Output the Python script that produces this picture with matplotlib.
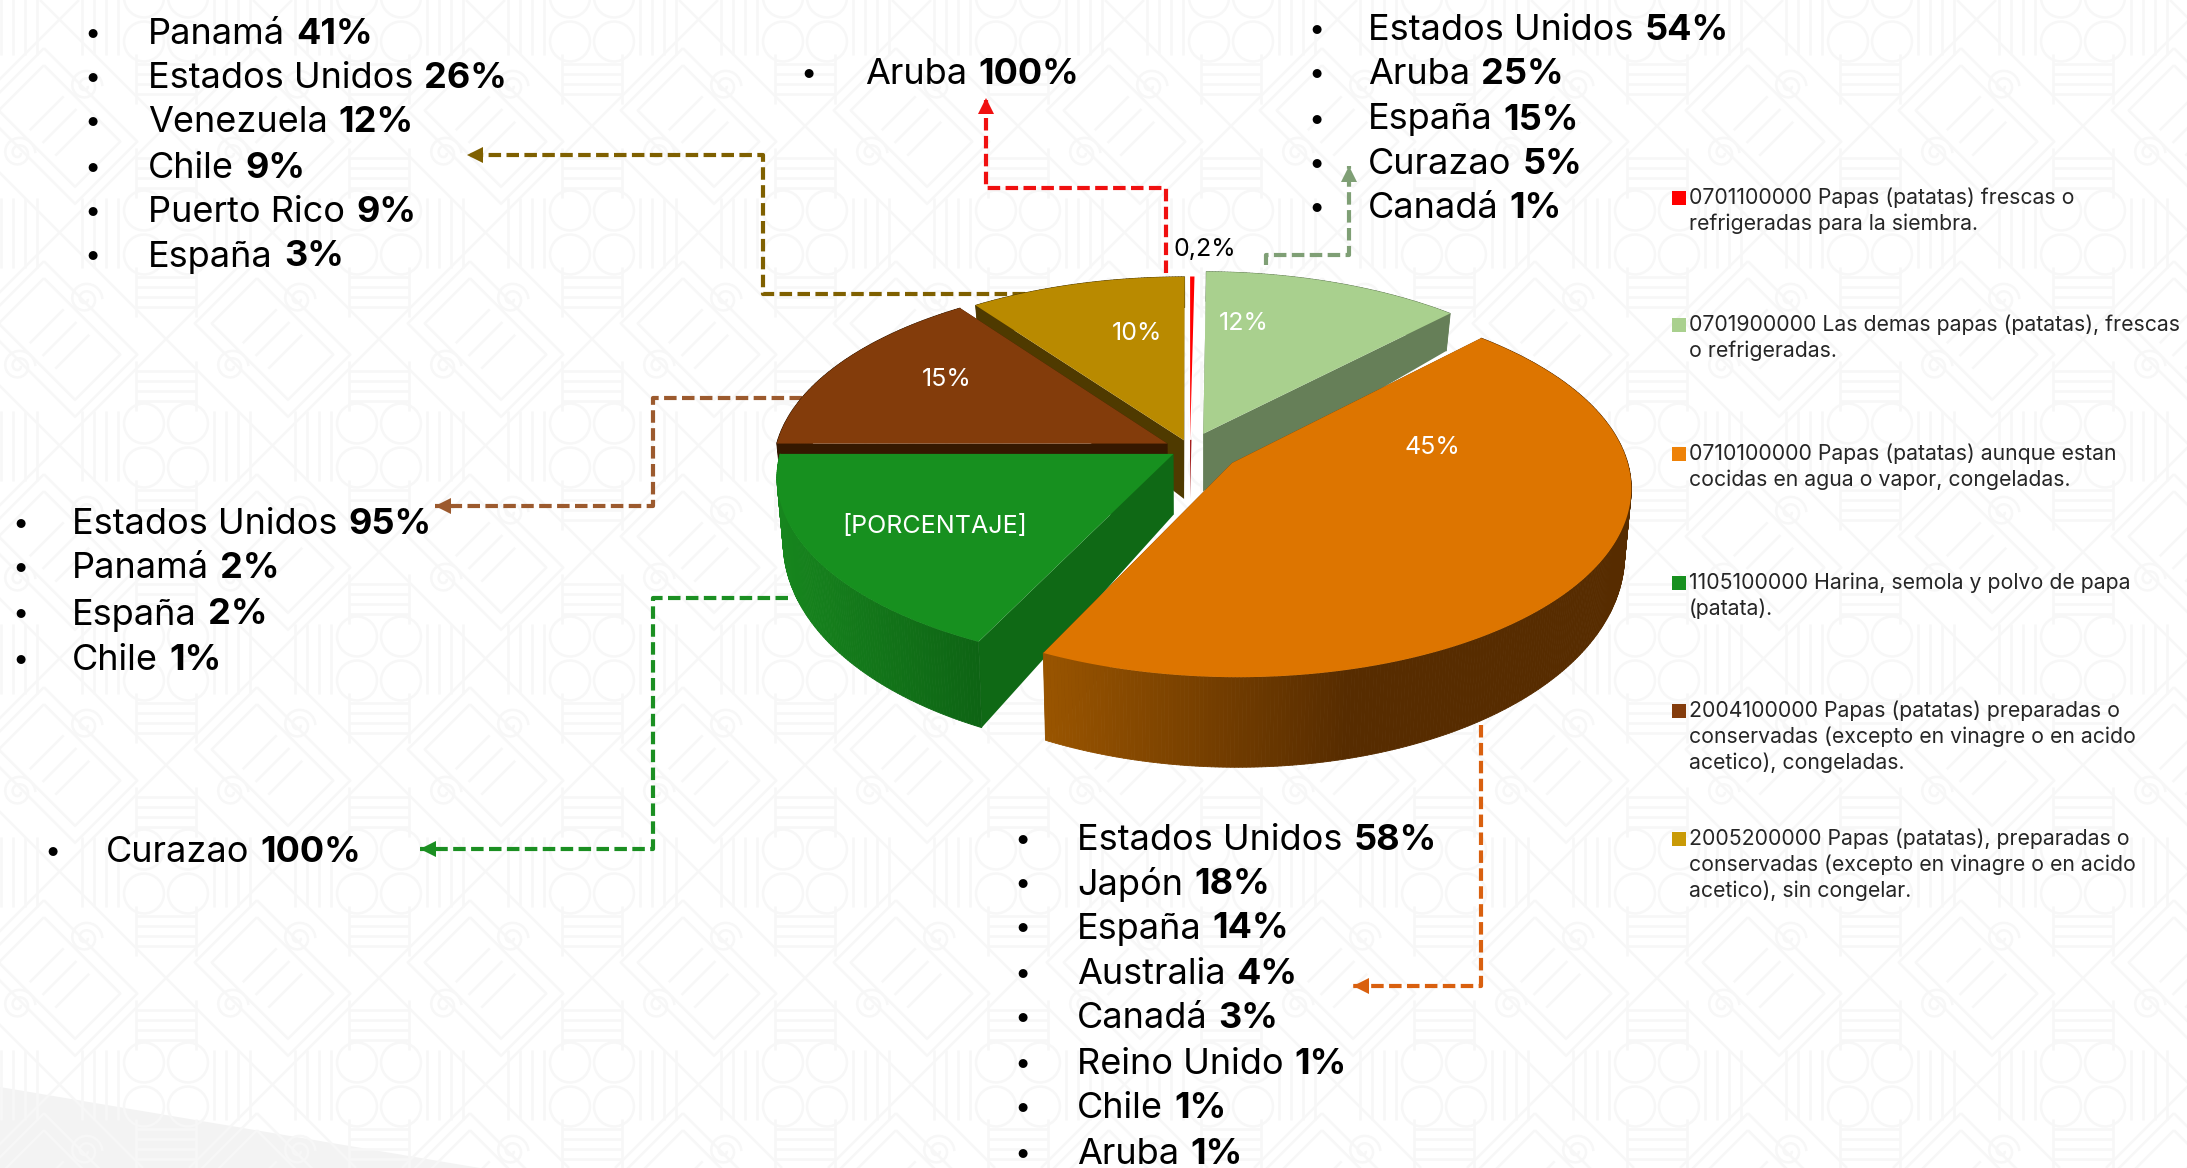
import numpy as np
import matplotlib
matplotlib.use('Agg')
from matplotlib import pyplot as plt
from matplotlib.collections import PolyCollection, LineCollection
from matplotlib.colors import to_rgb

plt.rcParams['font.family'] = ['Inter', 'Lato', 'DejaVu Sans']

# slices, clockwise from 12 o'clock
shares = [0.2, 12, 45, 17.8, 15, 10]
slice_labels = ['0,2%', '12%', '45%', '[PORCENTAJE]', '15%', '10%']

legend_items = [
    ['0701100000 Papas (patatas) frescas o', 'refrigeradas para la siembra.'],
    ['0701900000 Las demas papas (patatas), frescas', 'o refrigeradas.'],
    ['0710100000 Papas (patatas) aunque estan', 'cocidas en agua o vapor, congeladas.'],
    ['1105100000 Harina, semola y polvo de papa', '(patata).'],
    ['2004100000 Papas (patatas) preparadas o', 'conservadas (excepto en vinagre o en acido', 'acetico), congeladas.'],
    ['2005200000 Papas (patatas), preparadas o', 'conservadas (excepto en vinagre o en acido', 'acetico), sin congelar.'],
]

# destination lists
gold_names = ['Panamá', 'Estados Unidos', 'Venezuela', 'Chile', 'Puerto Rico', 'España']
gold_pct = [41, 26, 12, 9, 9, 3]
red_names = ['Aruba']
red_pct = [100]
light_names = ['Estados Unidos', 'Aruba', 'España', 'Curazao', 'Canadá']
light_pct = [54, 25, 15, 5, 1]
brown_names = ['Estados Unidos', 'Panamá', 'España', 'Chile']
brown_pct = [95, 2, 2, 1]
green_names = ['Curazao']
green_pct = [100]
orange_names = ['Estados Unidos', 'Japón', 'España', 'Australia', 'Canadá', 'Reino Unido', 'Chile', 'Aruba']
orange_pct = [58, 18, 14, 4, 3, 1, 1, 1]

# styling per slice
top_cols = ['#ff0000', '#a9d08e', '#dd7500', '#17901f', '#833c0b', '#b98a00']
cut_cols = ['#990000', '#667f58', '#5a2e00', '#0f6915', '#351800', '#4f3a00']
wall_left = ['#990000', '#667f58', '#9a5500', '#17861e', '#351800', '#4f3a00']
wall_right = ['#990000', '#667f58', '#572c00', '#0e6414', '#351800', '#4f3a00']
legend_cols = ['#ff0000', '#a9d08e', '#ee8208', '#17901f', '#843c0c', '#c99a06']
explode = [0.05, 0.09, 0.13, 0.05, 0.065, 0.05]

W, H = 2187, 1168
CX, CY = 1190, 449
A, B, K = 392, 185, 0.12

fig = plt.figure(figsize=(W / 100, H / 100), dpi=100)
ax = fig.add_axes([0, 0, 1, 1])
ax.set_xlim(0, W)
ax.set_ylim(H, 0)
ax.axis('off')


def top_xy(X, Y):
    w = 1 - K * Y
    return CX + A * X / w, CY + B * Y / w


def bottom_xy(X, Y):
    x, y = top_xy(X, Y)
    return CX + (x - CX) * 0.985, y + 60 + 28 * Y


def rotated(cx, cy, u, v):
    # u, v along the two diagonals
    s = np.sqrt(0.5)
    return cx + (u - v) * s, cy + (u + v) * s


def draw_background():
    P = 213
    x0, y0 = 166, 126  # one crossing of the lattice
    segs = []
    for n in range(-12, 24):
        c = x0 - y0 + n * P
        segs.append([(c, 0), (c + H, H)])
        c = x0 + y0 + n * P
        segs.append([(c, 0), (c - H, H)])
    for i in range(-1, 12):
        for j in range(-1, 7):
            cx, cy = x0 + i * P, y0 + j * P
            # stripes above and below the crossing
            for sgn in (-1, 1):
                for d in (32, 42, 52, 62):
                    segs.append([(cx - 30, cy + sgn * d), (cx + 30, cy + sgn * d)])
            for sgn in (-1, 1):
                segs.append([(cx + sgn * 30, cy - 72), (cx + sgn * 30, cy - 22)])
                segs.append([(cx + sgn * 30, cy + 22), (cx + sgn * 30, cy + 72)])
            # ornament diamond
            ox, oy = cx - P / 2, cy
            for r, q in ((66, 44), (54, 32)):
                us = np.array([-r, r, r, -r, -r])
                vs = np.array([-q, -q, q, q, -q])
                xs, ys = rotated(ox, oy, us, vs)
                segs.append(list(zip(xs, ys)))
            for du in (-18, 0, 18):
                xs, ys = rotated(ox, oy, np.array([du, du]), np.array([-24, 24]))
                segs.append(list(zip(xs, ys)))
            for sx, sy in ((26, -40), (-41, 27)):
                ang = np.linspace(0, 4 * np.pi, 50)
                rad = 15 * ang / ang[-1] + 2
                segs.append(list(zip(ox + sx + rad * np.cos(ang), oy + sy + rad * np.sin(ang))))
            # petal diamond with vertical stripes
            px, py = cx, cy + P / 2
            ang = np.linspace(0, 2 * np.pi, 30)
            for sa in (-1, 1):
                for sb in (-1, 1):
                    segs.append(list(zip(px + sa * 22 + 20 * np.cos(ang), py + sb * 22 + 20 * np.sin(ang))))
            for sgn in (-1, 1):
                for d in (48, 60, 72, 84):
                    segs.append([(px + sgn * d, py - 35), (px + sgn * d, py + 35)])
    ax.fill([0, 480, 0], [1087, H, H], color='#f3f3f3', lw=0, zorder=0.5)
    ax.add_collection(LineCollection(segs, colors='#f7f7f7', linewidths=1.8, zorder=1))


def connector(xs, ys, color):
    ax.plot(xs, ys, color=color, lw=3, dashes=(3, 1.3), zorder=2)
    dx, dy = np.sign(xs[-1] - xs[-2]), np.sign(ys[-1] - ys[-2])
    tip = (xs[-1], ys[-1])
    ax.fill([tip[0], tip[0] - dx * 16 + dy * 8, tip[0] - dx * 16 - dy * 8],
            [tip[1], tip[1] - dy * 16 + dx * 8, tip[1] - dy * 16 - dx * 8],
            color=color, lw=0, zorder=2.1)


def draw_slice(i, start, end):
    mid = np.radians((start + end) / 2)
    X0, Y0 = explode[i] * np.sin(mid), -explode[i] * np.cos(mid)
    t = np.radians(np.linspace(start, end, max(3, int(end - start) * 2)))
    Xr, Yr = X0 + np.sin(t), Y0 - np.cos(t)
    xt, yt = top_xy(Xr, Yr)
    xb, yb = bottom_xy(Xr, Yr)
    ax_, ay_ = top_xy(X0, Y0)
    bx_, by_ = bottom_xy(X0, Y0)
    z = 5 + order.index(i)
    # cut faces
    for k in (0, -1):
        ax.fill([ax_, xt[k], xb[k], bx_], [ay_, yt[k], yb[k], by_],
                color=cut_cols[i], lw=0, zorder=z)
    # outer wall as small quads, shaded from left to right
    quads, cols = [], []
    c0, c1 = np.array(to_rgb(wall_left[i])), np.array(to_rgb(wall_right[i]))
    lo, hi = xt.min(), min(xt.max(), lo_hi[i])
    for n in range(len(t) - 1):
        quads.append([(xt[n], yt[n]), (xt[n + 1], yt[n + 1]), (xb[n + 1], yb[n + 1]), (xb[n], yb[n])])
        f = np.clip((xt[n] - lo) / max(hi - lo, 1), 0, 1)
        cols.append(c0 + (c1 - c0) * f)
    ax.add_collection(PolyCollection(quads, facecolors=cols, edgecolors=cols, linewidths=0.6, zorder=z))
    ax.fill(np.r_[ax_, xt], np.r_[ay_, yt], color=top_cols[i], lw=0, zorder=z + 0.5)
    if i == 0:
        ax.fill(np.r_[ax_, xt], np.r_[ay_, yt], facecolor='none', edgecolor='white', lw=2.5, zorder=z + 0.4)


def bullet_list(names, pcts, x_bullet, x_text, ys, size=26):
    renderer = fig.canvas.get_renderer()
    for name, pct, y in zip(names, pcts, ys):
        ax.text(x_bullet, y, '•', fontsize=size * 0.8, color='black', ha='center', va='center', zorder=20)
        t = ax.text(x_text, y, name, fontsize=size, color='black', va='center', zorder=20)
        ex = t.get_window_extent(renderer)
        ax.text(ex.x1 + 11, y, '%d%%' % pct, fontsize=size, fontweight='bold',
                color='black', va='center', zorder=20)


draw_background()

# leader lines
connector([1166, 1166, 986, 986], [273, 188, 188, 98], '#f01010')
connector([1266, 1266, 1349, 1349], [265, 255, 255, 166], '#7f9f75')
connector([1025, 763, 763, 467], [294, 294, 155, 155], '#7f6000')
connector([802, 653, 653, 435], [398, 398, 506, 506], '#9c5a2e')
connector([788, 653, 653, 420], [598, 598, 849, 849], '#1b8f22')
connector([1481, 1481, 1353], [725, 986, 986], '#d9600f')

# pie
order = [1, 5, 0, 4, 3, 2]
lo_hi = [W, W, 1350, 1000, W, W]
ends = np.cumsum(shares) / np.sum(shares) * 360
starts = np.r_[0, ends[:-1]]
for i in order:
    draw_slice(i, starts[i], ends[i])

# slice labels
label_pos = [(1205, 250), (1244, 324), (1432, 447), (935, 526), (947, 379), (1137, 333)]
for i, (lab, pos) in enumerate(zip(slice_labels, label_pos)):
    ax.text(pos[0], pos[1], lab, fontsize=18, color='black' if i == 0 else 'white',
            ha='center', va='center', zorder=30)

# destination lists
bullet_list(gold_names, gold_pct, 93, 148, [34, 78, 123, 168, 212, 257])
bullet_list(red_names, red_pct, 809, 865, [75])
bullet_list(light_names, light_pct, 1317, 1368, [31, 75, 120, 165, 209])
bullet_list(brown_names, brown_pct, 20, 72, [525, 569, 615, 660])
bullet_list(green_names, green_pct, 52, 106, [852])
bullet_list(orange_names, orange_pct, 1022, 1077, [840, 884, 929, 974, 1018, 1064, 1109, 1154])

# legend
legend_y = [198, 325, 454, 583, 711, 839]
for lines, col, y in zip(legend_items, legend_cols, legend_y):
    ax.fill([1672, 1686, 1686, 1672], [y - 7, y - 7, y + 7, y + 7], color=col, lw=0, zorder=20)
    for n, line in enumerate(lines):
        ax.text(1689, y + n * 25.7, line, fontsize=15.3, color='#262626', va='center', zorder=20)

plt.savefig('out.png', dpi=100)
